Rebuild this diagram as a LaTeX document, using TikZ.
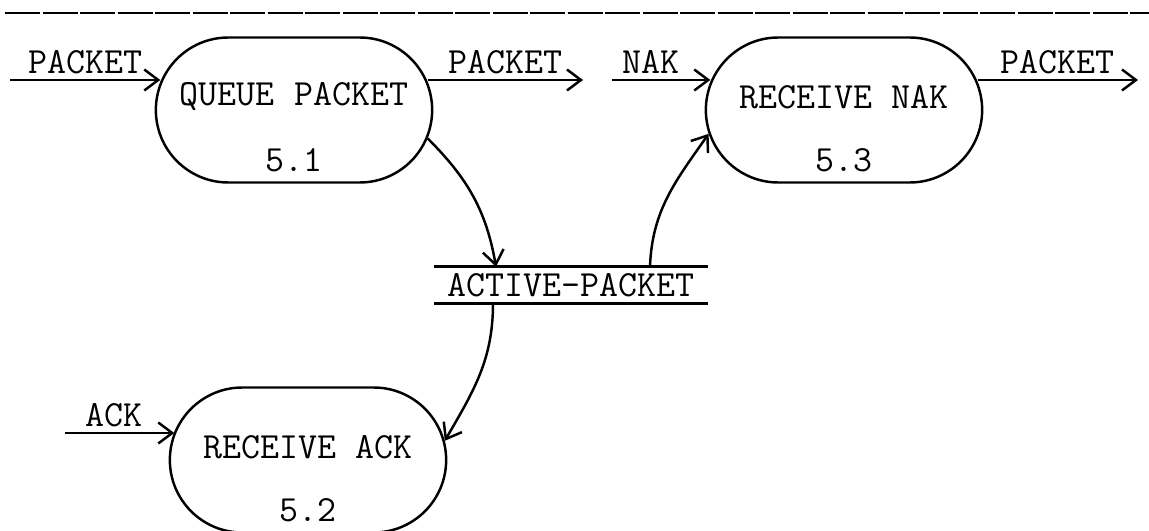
\documentclass[tikz,border=0pt]{standalone}
\usepackage{tikz}
\usetikzlibrary{positioning,arrows.meta,shapes.misc}

\begin{document}
\begin{tikzpicture}[x=0.2mm, y=0.2mm,
                    every node/.style={font=\fontsize{21}{25}\selectfont\ttfamily},
                    proc/.style={draw,rounded rectangle,line width=1.4pt,
                                 minimum width=57.6mm, minimum height=29mm},
                    store/.style={minimum width=54.6mm, minimum height=7.2mm, inner sep=0pt},
                    flow/.style={line width=1.4pt,-{Straight Barb[length=2.8mm,width=4.2mm]}},
                    lbl/.style={above, inner sep=3pt}]
\useasboundingbox (0,0) rectangle (1149,530);
% page rule
\draw[line width=1.4pt, dash pattern=on 7mm off 0.5mm] (5,517) -- (1149,517);

% processes
\node[proc] (P1) at (294,420) {};
\node (P1a) at ([yshift=2.6mm]P1.center) {QUEUE PACKET};
\node (P1b) at ([yshift=-10mm]P1.center) {5.1};
\node[proc] (P3) at (844,420) {};
\node (P3a) at ([yshift=2.6mm]P3.center) {RECEIVE NAK};
\node (P3b) at ([yshift=-10mm]P3.center) {5.3};
\node[proc] (P2) at (308,70) {};
\node (P2a) at ([yshift=2.6mm]P2.center) {RECEIVE ACK};
\node (P2b) at ([yshift=-10mm]P2.center) {5.2};

% data store
\node[store] (S) at (571,245) {ACTIVE-PACKET};
\draw[line width=1.4pt] (S.north west) -- (S.north east) (S.south west) -- (S.south east);

% flows
\coordinate (in1) at (10,450);
\coordinate (out1) at (583,450);
\coordinate (nak) at (612,450);
\coordinate (out3) at (1138,450);
\coordinate (ack) at (65,97);
\draw[flow] (in1) -- node[lbl]{PACKET} (in1 -| P1.168);
\draw[flow] (out1 -| P1.12) -- node[lbl]{PACKET} (out1);
\draw[flow] (nak) -- node[lbl,pos=0.4]{NAK} (nak -| P3.168);
\draw[flow] (out3 -| P3.12) -- node[lbl]{PACKET} (out3);
\draw[flow] (ack) -- node[lbl,pos=0.45]{ACK} (ack -| P2.168);
\draw[flow] (P1.-12) to[out=-45, in=100] ([xshift=-15mm]S.north);
\draw[flow] ([xshift=15.8mm]S.north) to[out=88, in=-125] (P3.190);
\draw[flow] ([xshift=-15.6mm]S.south) to[out=-90, in=60] (P2.8);
\end{tikzpicture}
\end{document}
